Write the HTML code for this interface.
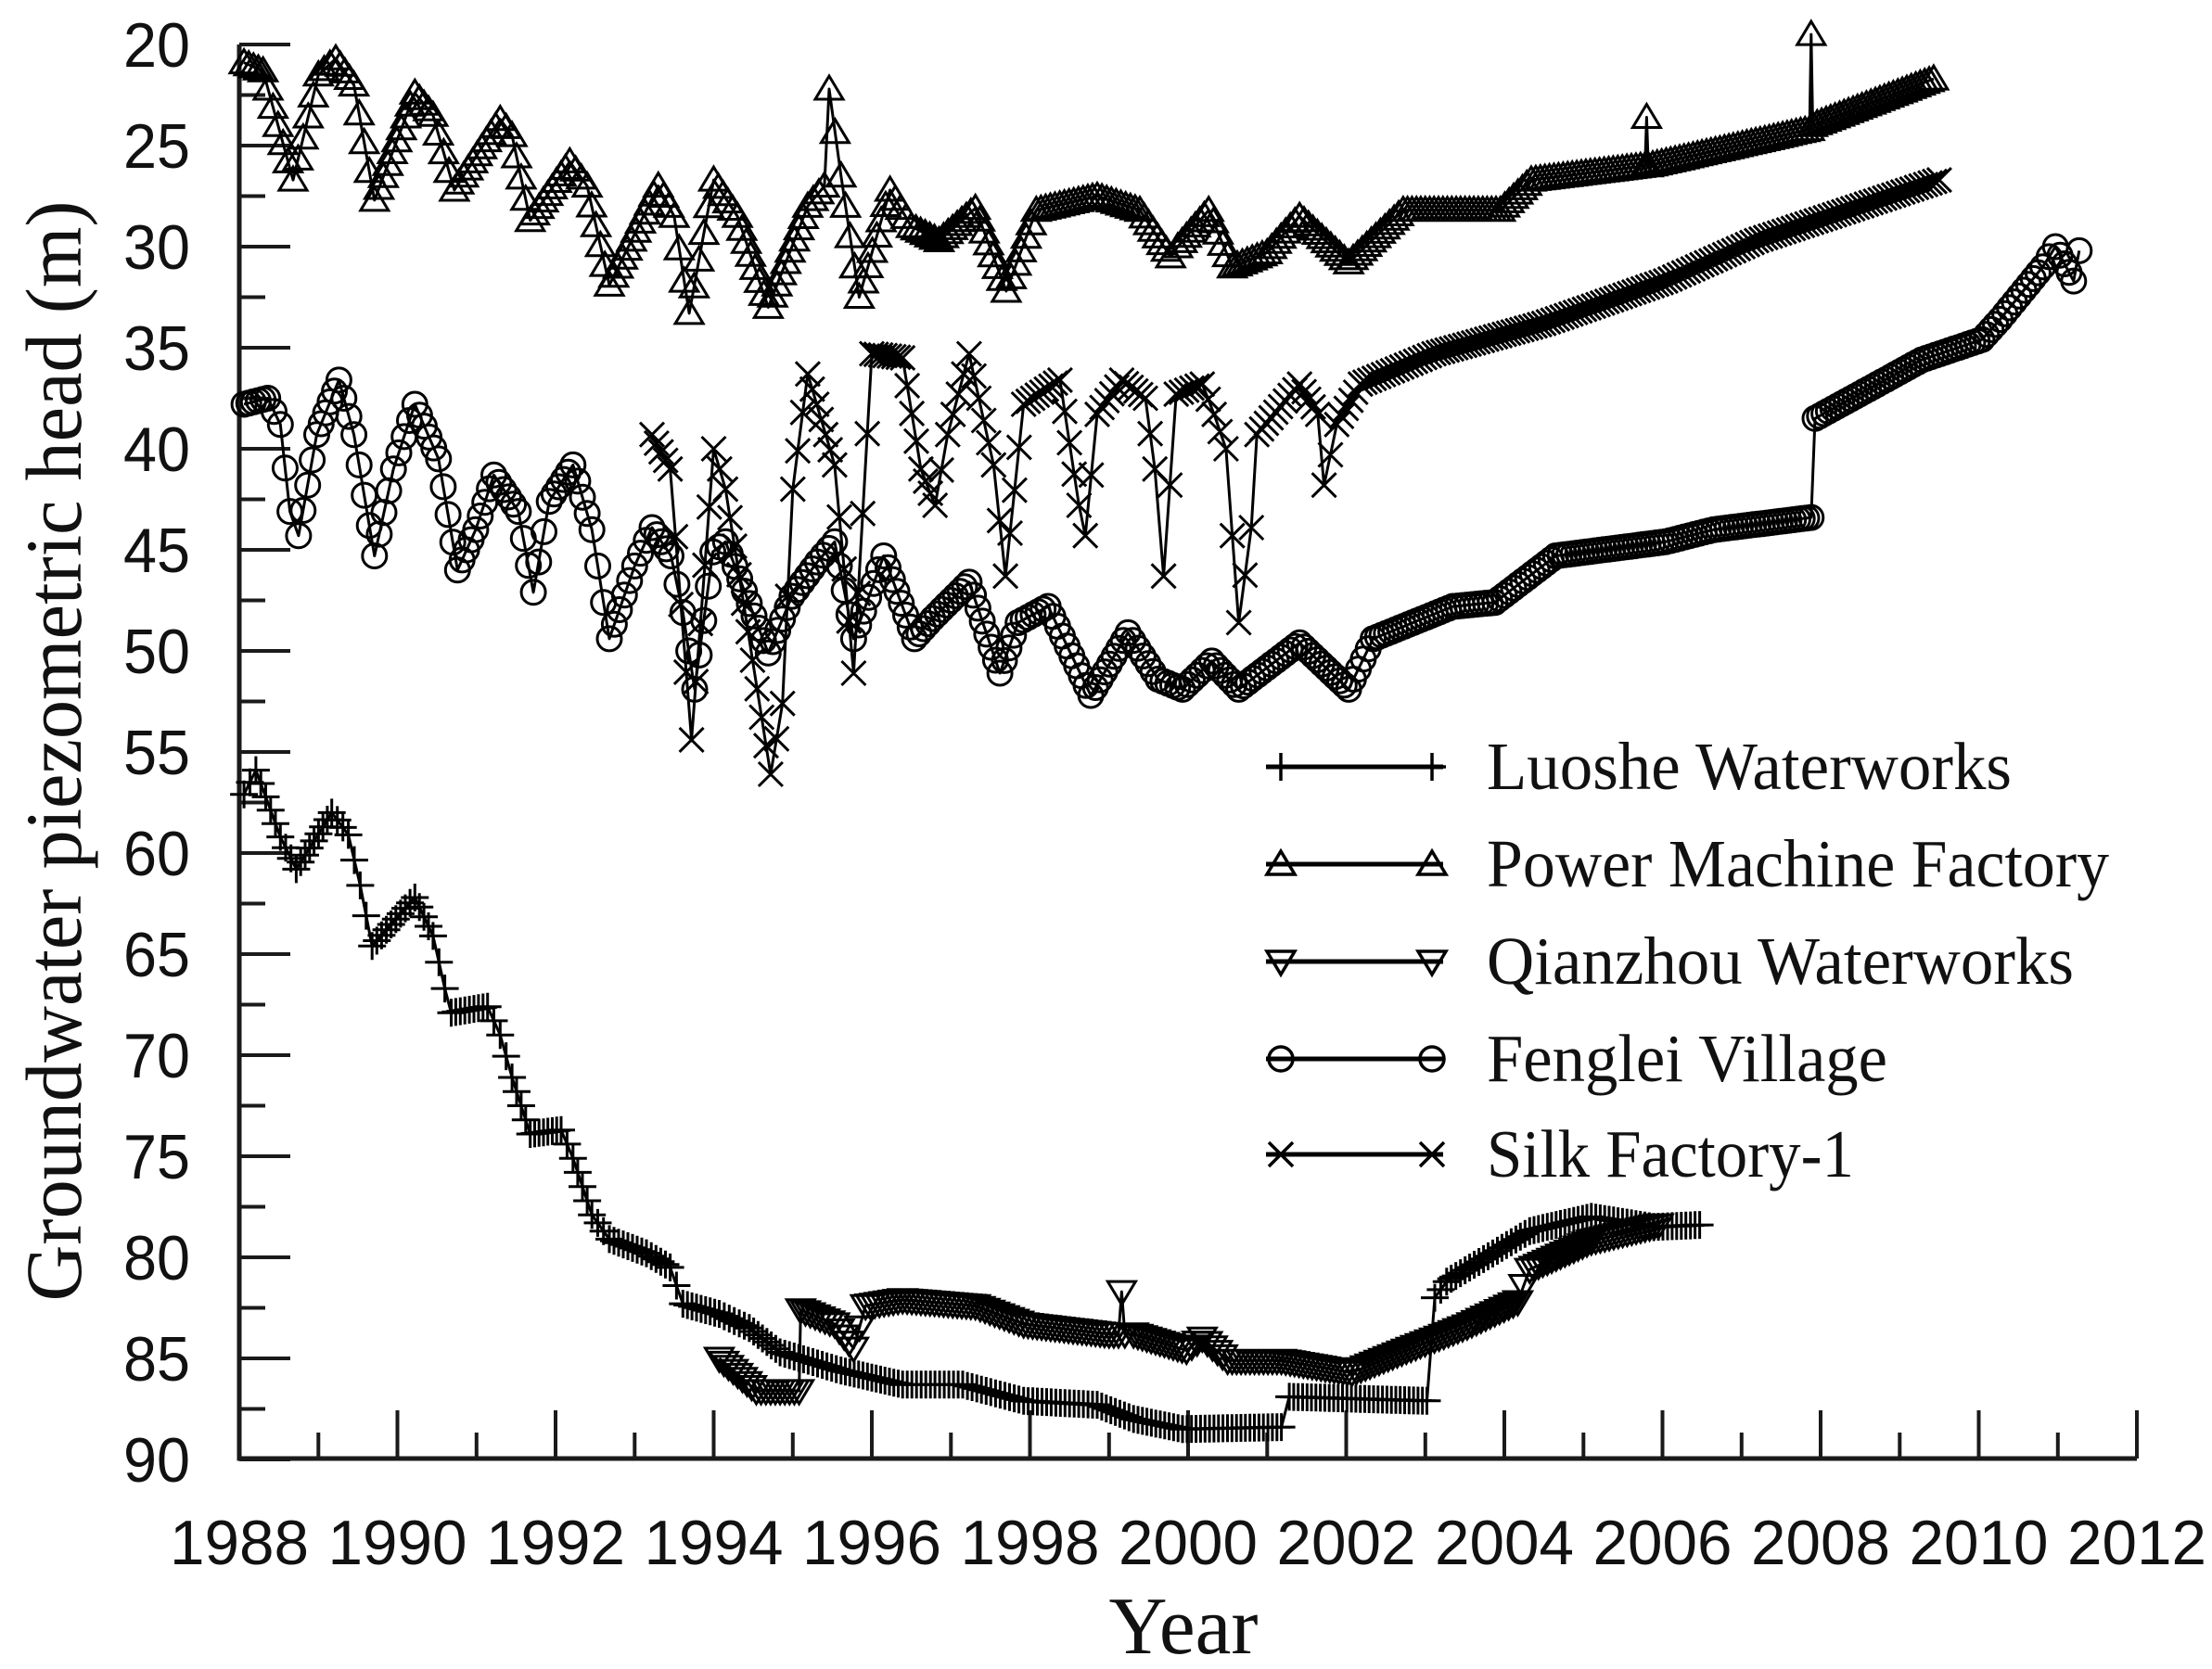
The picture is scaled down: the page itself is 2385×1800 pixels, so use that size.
<!DOCTYPE html>
<html><head><meta charset="utf-8"><style>
html,body{margin:0;padding:0;background:#fff;}
svg{display:block;}
</style></head><body>
<svg id="c" width="2385" height="1800" viewBox="0 0 2385 1800" xmlns="http://www.w3.org/2000/svg">
<rect width="2385" height="1800" fill="#fff"/>
<g id="axes" stroke="#1a1a1a" fill="none"></g>
<g id="data" fill="none" stroke="#000"></g>
<g font-family="Liberation Sans, sans-serif" font-size="68" fill="#111" id="ticklabels"></g>
<text x="58" y="810" transform="rotate(-90 58 810)" text-anchor="middle" dominant-baseline="central" font-family="Liberation Serif, serif" font-size="86" textLength="1187" lengthAdjust="spacingAndGlyphs" fill="#111">Groundwater piezometric head (m)</text>
<text x="1276" y="1783" text-anchor="middle" font-family="Liberation Serif, serif" font-size="88" textLength="161" lengthAdjust="spacingAndGlyphs" fill="#111">Year</text>
<g font-family="Liberation Serif, serif" font-size="73" fill="#111">
<text x="1603" y="851" textLength="566" lengthAdjust="spacingAndGlyphs">Luoshe Waterworks</text>
<text x="1603" y="956" textLength="671" lengthAdjust="spacingAndGlyphs">Power Machine Factory</text>
<text x="1603" y="1061" textLength="633" lengthAdjust="spacingAndGlyphs">Qianzhou Waterworks</text>
<text x="1603" y="1166" textLength="432" lengthAdjust="spacingAndGlyphs">Fenglei Village</text>
<text x="1603" y="1269" textLength="396" lengthAdjust="spacingAndGlyphs">Silk Factory-1</text>
</g>
<g id="legend" fill="none" stroke="#000"></g>
</svg>
<script>
(function(){
var NS="http://www.w3.org/2000/svg";
function X(y){return 258+(y-1988)*85.25;}
function Y(v){return 48+(v-20)*21.8;}
function el(parent,tag,attrs,text){var e=document.createElementNS(NS,tag);for(var k in attrs)e.setAttribute(k,attrs[k]);if(text!==undefined)e.textContent=text;parent.appendChild(e);return e;}
var axes=document.getElementById('axes'),tl=document.getElementById('ticklabels');
el(axes,'path',{d:'M258 48 V1573 H2304','stroke-width':5});
var ad='';
for(var v=20;v<=90;v+=2.5){var yy=Y(v);var major=(v%5===0);ad+='M258 '+yy.toFixed(1)+' h'+(major?55:28);
 if(major){el(tl,'text',{x:205,y:(yy+24).toFixed(1),'text-anchor':'end',textLength:72,lengthAdjust:'spacingAndGlyphs'},String(v));}}
for(var yr=1988;yr<=2012;yr++){var xx=X(yr);var major=(yr%2===0);ad+='M'+xx.toFixed(1)+' 1573 v-'+(major?52:28);
 if(major){el(tl,'text',{x:xx.toFixed(1),y:1687,'text-anchor':'middle',textLength:150,lengthAdjust:'spacingAndGlyphs'},String(yr));}}
el(axes,'path',{d:ad,'stroke-width':4});

function mk(type,x,y){
 switch(type){
 case 'plus':return 'M'+(x-15)+' '+y+'h30M'+x+' '+(y-15)+'v30';
 case 'up':return 'M'+x+' '+(y-14)+'L'+(x+15)+' '+(y+11)+'H'+(x-15)+'Z';
 case 'down':return 'M'+x+' '+(y+14)+'L'+(x+15)+' '+(y-11)+'H'+(x-15)+'Z';
 case 'circ':return 'M'+(x-13)+' '+y+'a13 13 0 1 0 26 0a13 13 0 1 0 -26 0';
 case 'x':return 'M'+(x-13)+' '+(y-13)+'l26 26M'+(x+13)+' '+(y-13)+'l-26 26';
 }}
function sample(pts){
 var out=[];var step=1/18;
 for(var i=0;i<pts.length-1;i++){var a=pts[i],b=pts[i+1];out.push(a);
  var n=Math.floor((b[0]-a[0])/step);
  for(var j=1;j<n;j++){var t=j/n;out.push([a[0]+(b[0]-a[0])*t,a[1]+(b[1]-a[1])*t]);}}
 out.push(pts[pts.length-1]);return out;}
var data=document.getElementById('data');
function series(pts,type,lw){
 var s=sample(pts);var d='',m='';
 for(var i=0;i<s.length;i++){var x=X(s[i][0]),y=Y(s[i][1]);d+=(i?'L':'M')+x.toFixed(1)+' '+y.toFixed(1);m+=mk(type,+x.toFixed(1),+y.toFixed(1));}
 el(data,'path',{d:d,'stroke-width':lw||3,'stroke-linejoin':'round'});
 el(data,'path',{d:m,'stroke-width':3});
}
var pmf=[[1988.06,20.9],[1988.3,21.3],[1988.68,26.7],[1989.0,21.5],[1989.22,20.7],[1989.45,22],[1989.71,27.7],[1990.22,22.4],[1990.45,23.5],[1990.72,27.2],[1991.3,23.7],[1991.45,24.5],[1991.68,28.7],[1992.18,25.8],[1992.4,27],[1992.68,31.9],[1993.3,27],[1993.5,28.5],[1993.69,33.3],[1994.0,26.7],[1994.3,28.5],[1994.69,33],[1995.19,28],[1995.4,27],[1995.46,22.2],[1995.61,26.5],[1995.84,32.5],[1996.23,27.2],[1996.5,29],[1996.85,29.7],[1997.31,28.1],[1997.7,32.2],[1998.08,28.2],[1998.85,27.5],[1999.39,28.2],[1999.78,30.5],[1999.87,30],[2000.26,28.2],[2000.56,31],[2001.0,30.3],[2001.41,28.5],[2002.03,30.8],[2002.72,28.2],[2003.95,28.2],[2004.34,26.7],[2005.78,26],[2005.8,23.6],[2005.82,26],[2007.86,24.2],[2007.88,19.5],[2007.9,24],[2009.43,21.7]];
var silk=[[1993.22,39.3],[1993.45,41],[1993.72,54.4],[1994.0,40],[1994.15,42],[1994.72,56.1],[1994.87,52.6],[1995.0,42],[1995.19,36.3],[1995.53,40.8],[1995.77,51.1],[1996.0,35.3],[1996.39,35.5],[1996.62,41],[1996.8,42.8],[1996.96,39.3],[1997.23,35.3],[1997.54,40.8],[1997.69,46.3],[1997.92,37.8],[1998.38,36.6],[1998.62,42.8],[1998.7,44.3],[1998.85,38.3],[1999.16,36.6],[1999.46,37.5],[1999.58,41],[1999.69,46.3],[1999.85,37.3],[2000.18,36.8],[2000.33,38.3],[2000.48,40],[2000.64,48.6],[2000.8,43.9],[2000.87,39.3],[2001.41,36.8],[2001.64,38.3],[2001.72,41.8],[2001.88,38.8],[2002.18,36.8],[2003.11,35.3],[2004.5,33.8],[2006.04,31.7],[2007.19,29.7],[2008.35,28.2],[2009.5,26.7]];
var feng=[[1988.06,37.8],[1988.36,37.5],[1988.52,38.8],[1988.64,43.1],[1988.75,44.3],[1988.98,39.3],[1989.26,36.6],[1989.45,39.3],[1989.71,45.3],[1989.95,41],[1990.22,37.8],[1990.52,40.5],[1990.76,46],[1990.99,44],[1991.22,41.3],[1991.53,43.1],[1991.72,47.1],[1991.92,42.6],[1992.22,40.8],[1992.46,44],[1992.68,49.4],[1993.0,45.8],[1993.22,43.9],[1993.46,45.3],[1993.61,48.1],[1993.76,51.9],[1993.99,45.1],[1994.15,44.6],[1994.69,50.1],[1994.99,47.3],[1995.31,45.6],[1995.53,44.6],[1995.77,49.4],[1996.15,45.3],[1996.54,49.4],[1996.77,48.4],[1997.23,46.6],[1997.62,51.1],[1997.85,48.6],[1998.23,47.8],[1998.77,52.2],[1999.24,49.1],[1999.62,51.4],[1999.93,51.9],[2000.3,50.5],[2000.64,51.9],[2001.41,49.6],[2002.03,51.9],[2002.34,49.4],[2003.35,47.8],[2003.88,47.6],[2004.65,45.3],[2006.04,44.6],[2006.65,44],[2007.88,43.4],[2007.93,38.5],[2009.28,35.6],[2010.04,34.6],[2010.27,33.6],[2010.81,31],[2010.97,30],[2011.2,31.7],[2011.27,30.2]];
var luo=[[1988.06,57.1],[1988.21,55.9],[1988.52,59.2],[1988.72,60.8],[1989.17,58],[1989.38,59.1],[1989.53,61.6],[1989.68,64.6],[1990.22,62.2],[1990.45,64.1],[1990.6,66.7],[1990.68,67.9],[1991.14,67.6],[1991.3,69],[1991.45,71.1],[1991.68,73.9],[1992.07,73.7],[1992.22,75.1],[1992.46,77.9],[1992.68,79.1],[1993.15,79.8],[1993.45,80.5],[1993.61,82.3],[1994.07,82.8],[1994.45,83.5],[1994.84,84.7],[1995.61,85.6],[1996.39,86.3],[1997.15,86.3],[1997.92,87.1],[1998.85,87.3],[1999.31,88],[1999.93,88.5],[2001.18,88.4],[2001.28,86.9],[2003.02,87.1],[2003.12,82],[2003.27,81.2],[2004.32,78.7],[2005.1,78],[2005.89,78.5],[2006.47,78.4]];
var qian=[[1994.07,85],[1994.54,86.6],[1995.08,86.6],[1995.1,82.6],[1995.53,83.3],[1995.77,84.5],[1995.92,82.4],[1996.39,82.1],[1997.31,82.4],[1997.92,83.3],[1999.0,83.8],[1999.12,83.8],[1999.16,81.7],[1999.2,83.8],[1999.31,83.8],[1999.98,84.6],[2000.18,84],[2000.5,85.1],[2001.18,85.1],[2002.07,85.7],[2002.76,84.6],[2003.53,83.4],[2004.17,82.2],[2004.32,80.6],[2005.1,79.2],[2005.95,78.4]];
series(qian,'down',3);
series(luo,'plus',3);
series(feng,'circ',3);
series(silk,'x',3);
series(pmf,'up',3);
var lg=document.getElementById('legend');
var rows=[[827,'plus'],[932,'up'],[1037,'down'],[1142,'circ'],[1245,'x']];
for(var i=0;i<rows.length;i++){var y=rows[i][0];
 el(lg,'path',{d:'M1365 '+y+'H1556','stroke-width':5});
 el(lg,'path',{d:mk(rows[i][1],1381,y)+mk(rows[i][1],1544,y),'stroke-width':3.5});}
})();
</script>
</body></html>
